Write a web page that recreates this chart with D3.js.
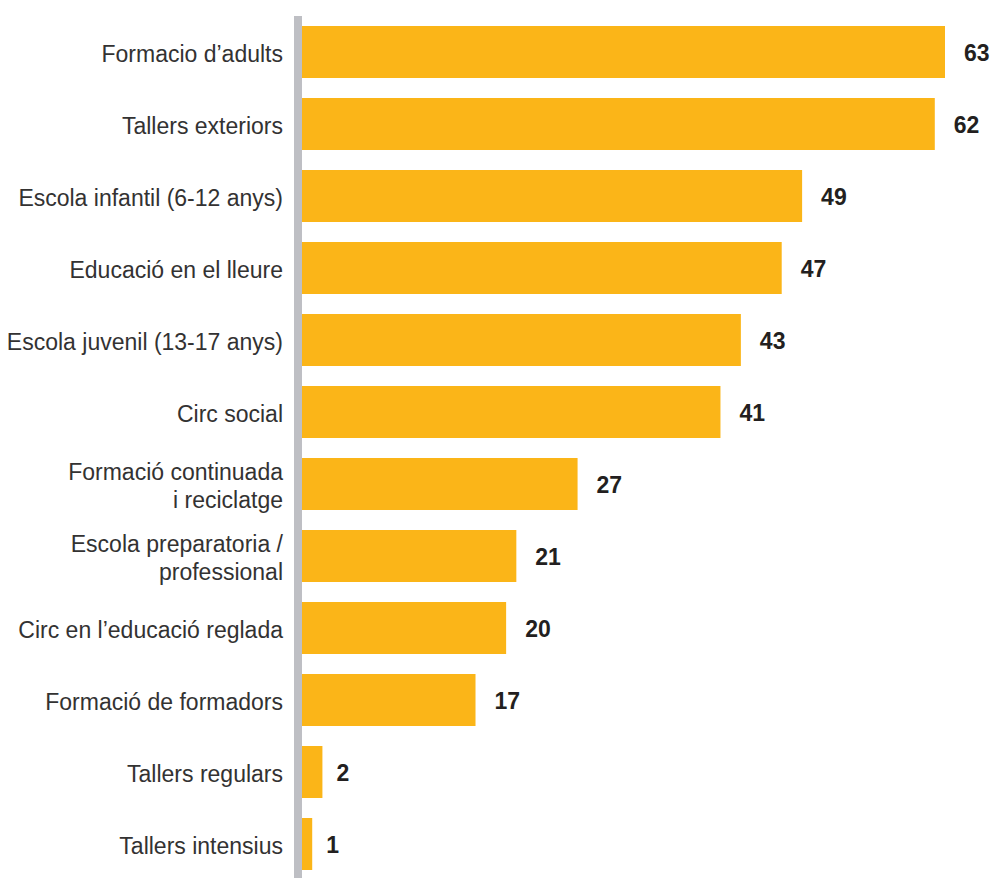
<!DOCTYPE html>
<html>
<head>
<meta charset="utf-8">
<script src="https://cdn.jsdelivr.net/npm/d3@7"></script>
<style>
  body { margin: 0; background: #fff; }
  svg text { font-family: "Liberation Sans", Arial, sans-serif; }
</style>
</head>
<body>
<div class="chart"></div>
<script>
const categories = [
  ["Formacio d\u2019adults"],
  ["Tallers exteriors"],
  ["Escola infantil (6-12 anys)"],
  ["Educació en el lleure"],
  ["Escola juvenil (13-17 anys)"],
  ["Circ social"],
  ["Formació continuada", "i reciclatge"],
  ["Escola preparatoria /", "professional"],
  ["Circ en l\u2019educació reglada"],
  ["Formació de formadors"],
  ["Tallers regulars"],
  ["Tallers intensius"]
];
const values = [63, 62, 49, 47, 43, 41, 27, 21, 20, 17, 2, 1];

const width = 994, height = 878;
const margin = {top: 16, right: 0, bottom: 0, left: 302};

const svg = d3.select(".chart").append("svg")
    .attr("width", width)
    .attr("height", height);

const keys = categories.map((c, i) => i);

const xScale = d3.scaleLinear()
    .domain([0, 63])
    .range([margin.left, 945]);

// step 72, bar height 52
const yScale = d3.scaleBand()
    .domain(keys)
    .range([26, 870])
    .paddingInner(20 / 72)
    .paddingOuter(0);

// bars
svg.selectAll(".bar")
    .data(values)
    .join("rect")
    .attr("class", "bar")
    .attr("x", xScale(0))
    .attr("y", (d, i) => yScale(i))
    .attr("width", d => xScale(d) - xScale(0))
    .attr("height", yScale.bandwidth())
    .attr("fill", "#fbb518");

// vertical axis line
svg.append("rect")
    .attr("x", xScale(0) - 8)
    .attr("y", margin.top)
    .attr("width", 8)
    .attr("height", height - margin.top)
    .attr("fill", "#bebfc4");

// category labels
const lbl = svg.selectAll(".lbl")
    .data(categories)
    .join("text")
    .attr("class", "lbl")
    .attr("text-anchor", "end")
    .attr("font-size", 23)
    .attr("fill", "#333232")
    .attr("transform", (d, i) => `translate(283, ${yScale(i) + yScale.bandwidth() / 2})`);

lbl.selectAll("tspan")
    .data(d => d.map((t, j) => ({t, j, n: d.length})))
    .join("tspan")
    .attr("x", 0)
    .attr("y", d => (d.j - (d.n - 1) / 2) * 28)
    .attr("dy", "0.42em")
    .text(d => d.t);

// value labels
svg.selectAll(".val")
    .data(values)
    .join("text")
    .attr("class", "val")
    .attr("x", d => xScale(d) + (d < 5 ? 14 : 19))
    .attr("y", (d, i) => yScale(i) + yScale.bandwidth() / 2)
    .attr("dy", "0.38em")
    .attr("font-size", 23)
    .attr("font-weight", "bold")
    .attr("fill", "#231f20")
    .text(d => d);
</script>
</body>
</html>
